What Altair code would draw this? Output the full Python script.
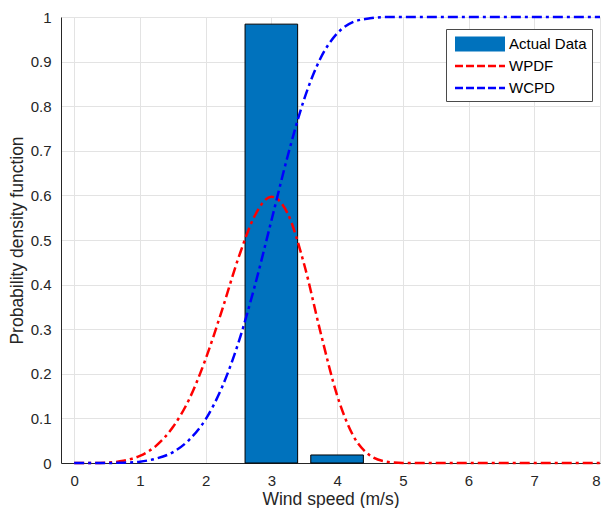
import altair as alt
import pandas as pd

# Histogram bars (Actual Data)
bar_start = [2.6, 3.6]
bar_end = [3.4, 4.4]
bar_height = [0.984, 0.018]

# Curves
xs = [0.0, 0.25, 0.5, 0.75, 1.0, 1.25, 1.5, 1.75, 2.0, 2.25, 2.5, 2.75, 3.0,
      3.25, 3.5, 3.75, 4.0, 4.25, 4.5, 4.75, 5.0, 5.5, 6.0, 6.5, 7.0, 7.5, 8.0]
wpdf = [0.0, 0.0, 0.001, 0.005, 0.016, 0.039, 0.080, 0.143, 0.233, 0.343, 0.460, 0.555, 0.597,
        0.559, 0.445, 0.292, 0.152, 0.060, 0.017, 0.003, 0.0, 0.0, 0.0, 0.0, 0.0, 0.0, 0.0]
wcpd = [0.0, 0.0, 0.0001, 0.0008, 0.003, 0.010, 0.024, 0.052, 0.098, 0.170, 0.270, 0.398, 0.543,
        0.689, 0.816, 0.908, 0.963, 0.989, 0.997, 1.0, 1.0, 1.0, 1.0, 1.0, 1.0, 1.0, 1.0]

series = ["Actual Data", "WPDF", "WCPD"]
colors = ["#0072BD", "#FF0000", "#0000FF"]

bars = pd.DataFrame({"x0": bar_start, "x1": bar_end, "y": bar_height})
pdf_df = pd.DataFrame({"x": xs, "y": wpdf})
cdf_df = pd.DataFrame({"x": xs, "y": wcpd})
legend_df = pd.DataFrame({"series": series, "x": [0, 0, 0], "y": [0, 0, 0]})

FONT = "Liberation Sans"
TXT = "#262626"

# legend symbol shapes (unit paths, scaled by Vega)
rect_path = "M-0.6,-0.75H4.4V0.75H-0.6Z"
dash_path = ("M-0.6,-0.125H0.2V0.125H-0.6Z M0.5,-0.125H1.3V0.125H0.5Z "
             "M1.6,-0.125H2.4V0.125H1.6Z M2.7,-0.125H3.5V0.125H2.7Z M3.8,-0.125H4.4V0.125H3.8Z")
shapes = [rect_path, dash_path, dash_path]

xscale = alt.Scale(domain=[-0.2, 8], nice=False, zero=False)
yscale = alt.Scale(domain=[0, 1], nice=False)

xaxis = alt.Axis(values=list(range(0, 9)), title="Wind speed (m/s)", format="d")
yaxis = alt.Axis(values=[i / 10 for i in range(11)], title="Probability density function", format=".1~f")

legend = alt.Legend(
    orient="none", legendX=385, legendY=12, title=None,
    symbolSize=400, labelOffset=38, padding=5, rowPadding=4,
    symbolStrokeWidth=0, symbolOpacity=1,
    labelFont=FONT, labelFontSize=15, labelColor="#000000",
    labelExpr="datum.label + '   '",
    strokeColor="#4a4a4a", fillColor="#ffffff",
)

bar_layer = alt.Chart(bars).mark_bar(stroke="#000000", strokeWidth=1, color="#0072BD", opacity=1).encode(
    x=alt.X("x0:Q", scale=xscale, axis=xaxis),
    x2="x1:Q",
    y=alt.Y("y:Q", scale=yscale, axis=yaxis),
    y2=alt.datum(0),
)

pdf_layer = alt.Chart(pdf_df).mark_line(color="#FF0000", strokeWidth=2.5, strokeDash=[10, 4, 3, 4],
                                         interpolate="monotone").encode(
    x=alt.X("x:Q", scale=xscale), y=alt.Y("y:Q", scale=yscale), order="x:Q")

cdf_layer = alt.Chart(cdf_df).mark_line(color="#0000FF", strokeWidth=2.5, strokeDash=[10, 4, 3, 4],
                                         interpolate="monotone").encode(
    x=alt.X("x:Q", scale=xscale), y=alt.Y("y:Q", scale=yscale), order="x:Q")

legend_layer = alt.Chart(legend_df).transform_filter("false").mark_point(filled=True, opacity=1).encode(
    x=alt.X("x:Q", scale=xscale), y=alt.Y("y:Q", scale=yscale),
    color=alt.Color("series:N", scale=alt.Scale(domain=series, range=colors), legend=legend),
    shape=alt.Shape("series:N", scale=alt.Scale(domain=series, range=shapes), legend=legend),
)

chart = alt.layer(bar_layer, pdf_layer, cdf_layer, legend_layer).properties(
    width=539, height=446,
    autosize=alt.AutoSizeParams(type="none"),
    padding={"left": 53, "top": 9, "right": 4, "bottom": 45},
).configure_view(stroke=None).configure_axis(
    domainColor=TXT, domainWidth=1, grid=True, gridColor="#e3e3e3", gridWidth=1,
    ticks=False, labelFont=FONT, labelFontSize=15, labelColor=TXT,
    titleFont=FONT, titleFontSize=17.5, titleColor=TXT, titleFontWeight="normal",
).configure_axisX(labelPadding=10, titlePadding=2).configure_axisY(labelPadding=10, titlePadding=4)

chart.save("out.html", embed_options={"renderer": "svg", "actions": False})
